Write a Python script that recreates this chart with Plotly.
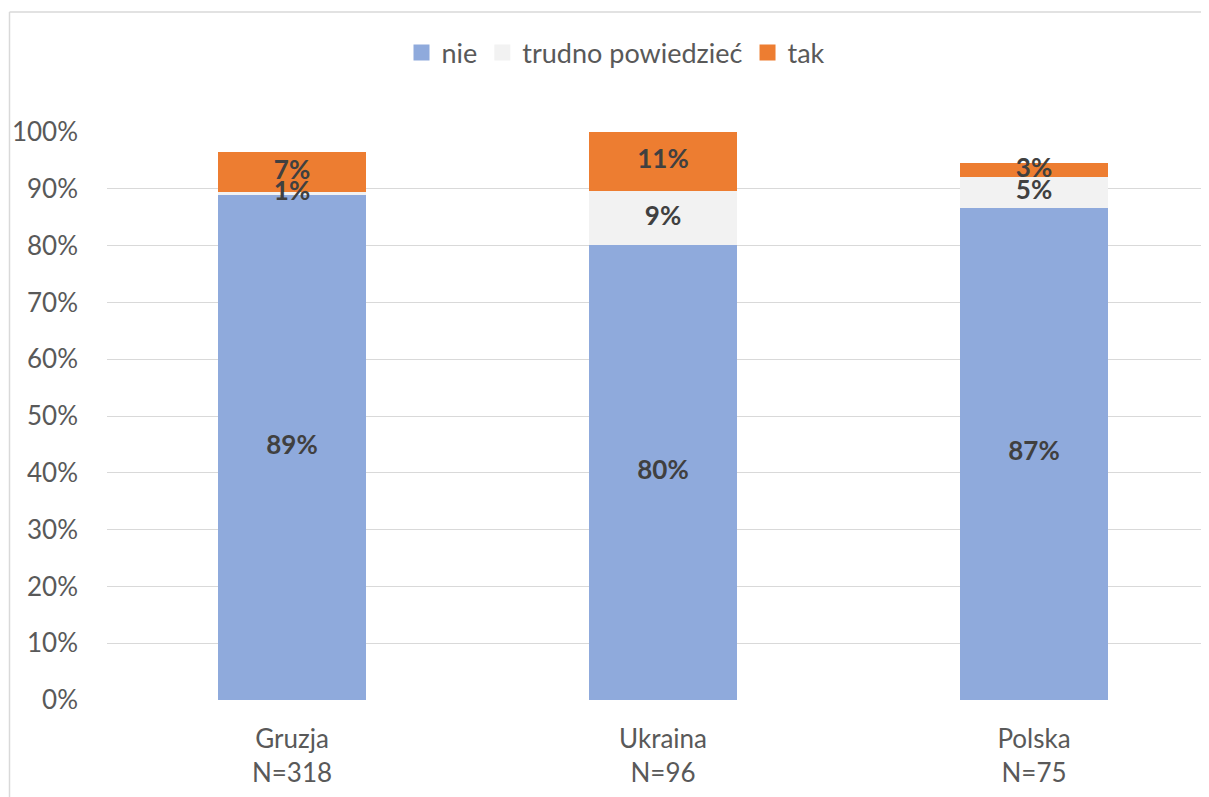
import plotly.graph_objects as go

categories = ["Gruzja<br>N=318", "Ukraina<br>N=96", "Polska<br>N=75"]
series_names = ["nie", "trudno powiedzieć", "tak"]
nie = [88.9, 80.1, 86.7]
trudno = [0.5, 9.5, 5.3]
tak = [7.0, 10.4, 2.5]
nie_labels = ["89%", "80%", "87%"]
trudno_labels = ["1%", "9%", "5%"]
tak_labels = ["7%", "11%", "3%"]
y_ticks = [0, 10, 20, 30, 40, 50, 60, 70, 80, 90, 100]
y_tick_labels = [f"{v}%" for v in y_ticks]

colors = ["#8FAADC", "#F2F2F2", "#ED7D31"]
FONT = "Lato, 'Open Sans', sans-serif"
xs = [0, 1, 2]

fig = go.Figure()
series = [nie, trudno, tak]
labels_all = [nie_labels, trudno_labels, tak_labels]

# stacked bars
for name, vals, col in zip(series_names, series, colors):
    fig.add_trace(go.Bar(
        x=xs, y=vals, name=name, showlegend=False,
        marker=dict(color=col, line=dict(width=0)),
        width=0.4, hoverinfo="skip",
    ))

# legend entries (square markers)
for name, col in zip(series_names, colors):
    fig.add_trace(go.Scatter(
        x=[None], y=[None], mode="markers", name=name,
        marker=dict(symbol="square", size=16, color=col),
        hoverinfo="skip",
    ))

# data labels drawn on top of all bars, at segment centres
base = [0.0, 0.0, 0.0]
for vals, labels in zip(series, labels_all):
    centers = [b + v / 2 for b, v in zip(base, vals)]
    fig.add_trace(go.Scatter(
        x=xs, y=centers, mode="text", text=labels, showlegend=False,
        textposition="middle center",
        textfont=dict(family=FONT, size=26, color="#404040", weight="bold"),
        hoverinfo="skip", cliponaxis=False,
    ))
    base = [b + v for b, v in zip(base, vals)]

# figure coordinates (page has an 8px body margin)
W, H = 1201, 789
L, T = 99, 124
B = H - 692
pw = W - L
ph = H - T - B

fig.update_layout(
    barmode="stack",
    width=W, height=H,
    margin=dict(l=L, r=0, t=T, b=B, pad=0),
    paper_bgcolor="white", plot_bgcolor="white",
    font=dict(family=FONT, color="#595959"),
    showlegend=True,
    legend=dict(orientation="h", x=(608 - L) / pw, xanchor="center",
                y=1 + (T - 45) / ph, yanchor="middle",
                font=dict(family=FONT, size=27, color="#595959"),
                itemsizing="trace", traceorder="normal"),
    xaxis=dict(range=[-0.4987, (W - L) / 371 - 0.4987], tickvals=xs, ticktext=categories,
               showgrid=False, zeroline=False, showline=False,
               tickfont=dict(family=FONT, size=26, color="#595959"),
               ticks="", ticklabelstandoff=21, fixedrange=True),
    yaxis=dict(range=[0, 100], tickvals=y_ticks, ticktext=y_tick_labels,
               showgrid=True, gridcolor="#D9D9D9", gridwidth=1.3,
               zeroline=False, showline=False,
               tickfont=dict(family=FONT, size=26, color="#595959"),
               ticks="", ticklabelstandoff=28, fixedrange=True),
)

# outer chart border (left and top edges visible in the crop)
bx = (1.5 - L) / pw
by = 1 + (T - 4) / ph
fig.add_shape(type="line", xref="paper", yref="paper", x0=bx, x1=bx, y0=by, y1=-2,
              line=dict(color="#D9D9D9", width=1.5))
fig.add_shape(type="line", xref="paper", yref="paper", x0=bx, x1=1.2, y0=by, y1=by,
              line=dict(color="#D9D9D9", width=1.5))

fig.write_html("out.html")
